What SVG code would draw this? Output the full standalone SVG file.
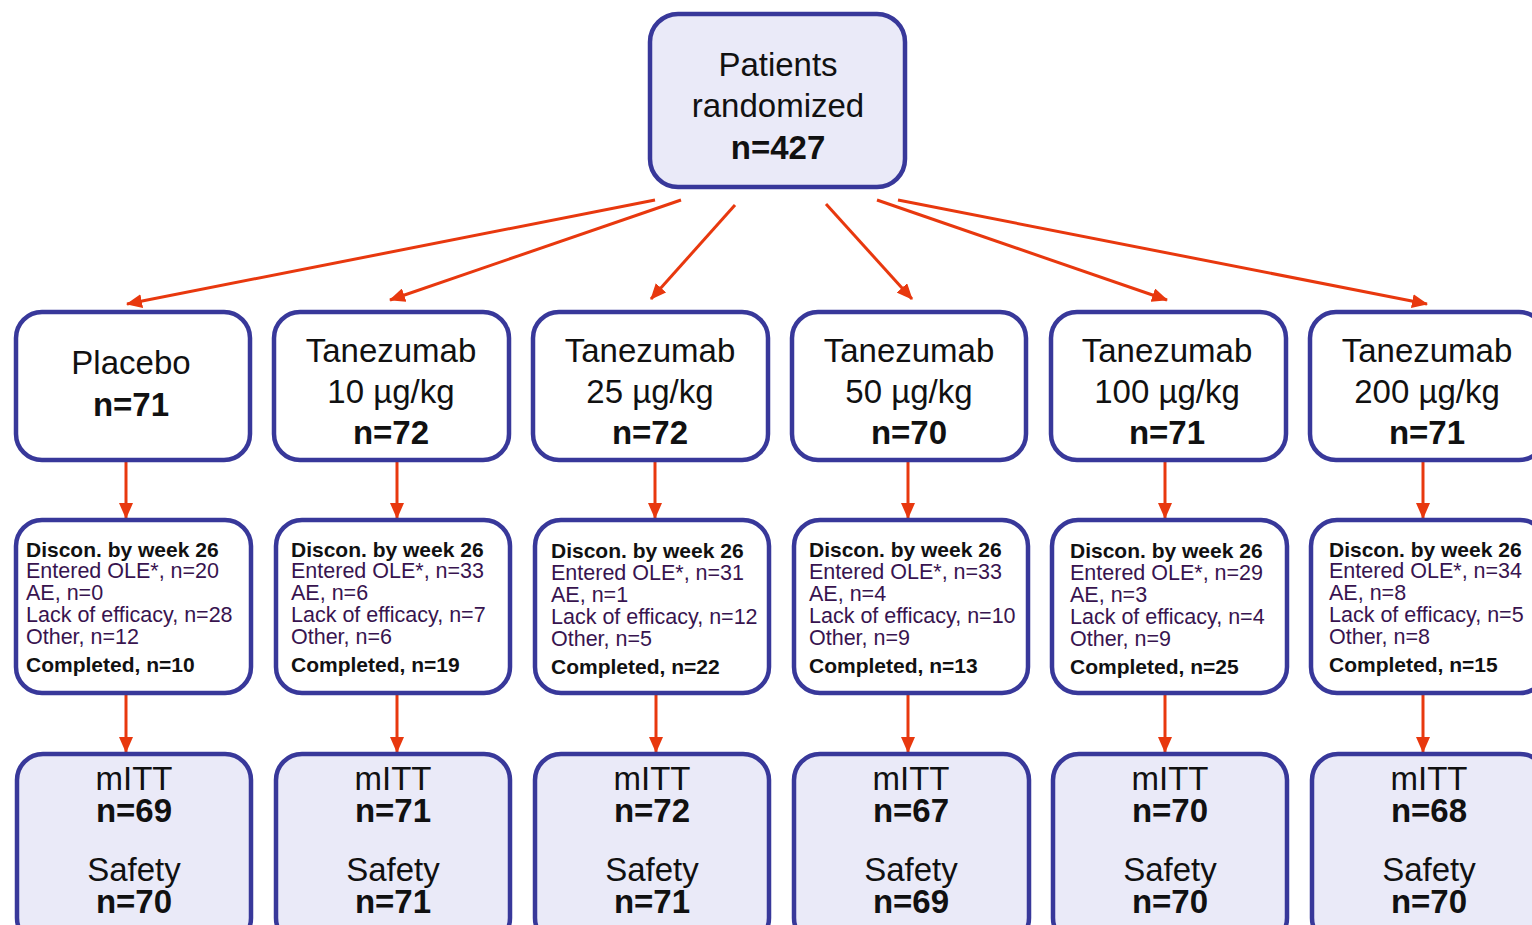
<svg xmlns="http://www.w3.org/2000/svg" width="1532" height="925" viewBox="0 0 1532 925">
<defs>
<marker id="ah" markerUnits="userSpaceOnUse" markerWidth="16" markerHeight="14" viewBox="0 0 16 14" refX="15" refY="7" orient="auto">
<path d="M0,0 L16,7 L0,14 z" fill="#E8380E"/>
</marker>
<style>
.box{stroke:#38389A;stroke-width:4.5;}
.lav{fill:#EAEAF8;}
.wht{fill:#FFFFFF;}
.big{font-family:"Liberation Sans",Arial,sans-serif;font-size:33px;fill:#111;text-anchor:middle;}
.b{font-weight:bold;}
.sm{font-family:"Liberation Sans",Arial,sans-serif;font-size:21.5px;fill:#38144F;}
.smb{font-family:"Liberation Sans",Arial,sans-serif;font-size:21px;font-weight:bold;fill:#111;}
.conn line{stroke:#E8380E;stroke-width:3;marker-end:url(#ah);}
</style>
</defs>
<rect width="1532" height="925" fill="#FFFFFF"/>

<g id="connectors" class="conn">
<line x1="655" y1="200" x2="127" y2="304"/>
<line x1="681" y1="200" x2="390" y2="300"/>
<line x1="735" y1="205" x2="651" y2="299"/>
<line x1="826" y1="204" x2="912" y2="299"/>
<line x1="877" y1="200" x2="1167" y2="300"/>
<line x1="898" y1="200" x2="1427" y2="304"/>

<line x1="126" y1="462" x2="126" y2="518"/>
<line x1="397" y1="462" x2="397" y2="518"/>
<line x1="655" y1="462" x2="655" y2="518"/>
<line x1="908" y1="462" x2="908" y2="518"/>
<line x1="1165" y1="462" x2="1165" y2="518"/>
<line x1="1423" y1="462" x2="1423" y2="518"/>

<line x1="126" y1="695" x2="126" y2="752"/>
<line x1="397" y1="695" x2="397" y2="752"/>
<line x1="656" y1="695" x2="656" y2="752"/>
<line x1="908" y1="695" x2="908" y2="752"/>
<line x1="1165" y1="695" x2="1165" y2="752"/>
<line x1="1423" y1="695" x2="1423" y2="752"/>
</g>

<g id="randomized">
<rect class="box lav" x="650" y="14" width="255" height="173" rx="28"/>
<text class="big" x="778" y="76">Patients</text>
<text class="big" x="778" y="117">randomized</text>
<text class="big b" x="778" y="159">n=427</text>
</g>

<g id="arm-placebo">
<rect class="box wht" x="16" y="312" width="234" height="148" rx="26"/>
<text class="big" x="131" y="374">Placebo</text>
<text class="big b" x="131" y="416">n=71</text>
</g>
<g id="arm-10">
<rect class="box wht" x="274" y="312" width="235" height="148" rx="26"/>
<text class="big" x="391" y="362">Tanezumab</text>
<text class="big" x="391" y="403">10 µg/kg</text>
<text class="big b" x="391" y="444">n=72</text>
</g>
<g id="arm-25">
<rect class="box wht" x="533" y="312" width="235" height="148" rx="26"/>
<text class="big" x="650" y="362">Tanezumab</text>
<text class="big" x="650" y="403">25 µg/kg</text>
<text class="big b" x="650" y="444">n=72</text>
</g>
<g id="arm-50">
<rect class="box wht" x="792" y="312" width="234" height="148" rx="26"/>
<text class="big" x="909" y="362">Tanezumab</text>
<text class="big" x="909" y="403">50 µg/kg</text>
<text class="big b" x="909" y="444">n=70</text>
</g>
<g id="arm-100">
<rect class="box wht" x="1051" y="312" width="235" height="148" rx="26"/>
<text class="big" x="1167" y="362">Tanezumab</text>
<text class="big" x="1167" y="403">100 µg/kg</text>
<text class="big b" x="1167" y="444">n=71</text>
</g>
<g id="arm-200">
<rect class="box wht" x="1310" y="312" width="235" height="148" rx="26"/>
<text class="big" x="1427" y="362">Tanezumab</text>
<text class="big" x="1427" y="403">200 µg/kg</text>
<text class="big b" x="1427" y="444">n=71</text>
</g>

<g id="discon-placebo">
<rect class="box wht" x="16" y="520" width="235" height="173" rx="26"/>
<text class="smb" x="26" y="557">Discon. by week 26</text>
<text class="sm" x="26" y="578">Entered OLE*, n=20</text>
<text class="sm" x="26" y="600">AE, n=0</text>
<text class="sm" x="26" y="622">Lack of efficacy, n=28</text>
<text class="sm" x="26" y="644">Other, n=12</text>
<text class="smb" x="26" y="672">Completed, n=10</text>
</g>
<g id="discon-10">
<rect class="box wht" x="276" y="520" width="234" height="173" rx="26"/>
<text class="smb" x="291" y="557">Discon. by week 26</text>
<text class="sm" x="291" y="578">Entered OLE*, n=33</text>
<text class="sm" x="291" y="600">AE, n=6</text>
<text class="sm" x="291" y="622">Lack of efficacy, n=7</text>
<text class="sm" x="291" y="644">Other, n=6</text>
<text class="smb" x="291" y="672">Completed, n=19</text>
</g>
<g id="discon-25">
<rect class="box wht" x="535" y="520" width="234" height="173" rx="26"/>
<text class="smb" x="551" y="558">Discon. by week 26</text>
<text class="sm" x="551" y="580">Entered OLE*, n=31</text>
<text class="sm" x="551" y="602">AE, n=1</text>
<text class="sm" x="551" y="624">Lack of efficacy, n=12</text>
<text class="sm" x="551" y="646">Other, n=5</text>
<text class="smb" x="551" y="674">Completed, n=22</text>
</g>
<g id="discon-50">
<rect class="box wht" x="794" y="520" width="234" height="173" rx="26"/>
<text class="smb" x="809" y="557">Discon. by week 26</text>
<text class="sm" x="809" y="579">Entered OLE*, n=33</text>
<text class="sm" x="809" y="601">AE, n=4</text>
<text class="sm" x="809" y="623">Lack of efficacy, n=10</text>
<text class="sm" x="809" y="645">Other, n=9</text>
<text class="smb" x="809" y="673">Completed, n=13</text>
</g>
<g id="discon-100">
<rect class="box wht" x="1052" y="520" width="235" height="173" rx="26"/>
<text class="smb" x="1070" y="558">Discon. by week 26</text>
<text class="sm" x="1070" y="580">Entered OLE*, n=29</text>
<text class="sm" x="1070" y="602">AE, n=3</text>
<text class="sm" x="1070" y="624">Lack of efficacy, n=4</text>
<text class="sm" x="1070" y="646">Other, n=9</text>
<text class="smb" x="1070" y="674">Completed, n=25</text>
</g>
<g id="discon-200">
<rect class="box wht" x="1311" y="520" width="235" height="173" rx="26"/>
<text class="smb" x="1329" y="557">Discon. by week 26</text>
<text class="sm" x="1329" y="578">Entered OLE*, n=34</text>
<text class="sm" x="1329" y="600">AE, n=8</text>
<text class="sm" x="1329" y="622">Lack of efficacy, n=5</text>
<text class="sm" x="1329" y="644">Other, n=8</text>
<text class="smb" x="1329" y="672">Completed, n=15</text>
</g>

<g id="pop-placebo">
<rect class="box lav" x="17" y="754" width="234" height="190" rx="26"/>
<text class="big" x="134" y="790">mITT</text>
<text class="big b" x="134" y="822">n=69</text>
<text class="big" x="134" y="881">Safety</text>
<text class="big b" x="134" y="913">n=70</text>
</g>
<g id="pop-10">
<rect class="box lav" x="276" y="754" width="234" height="190" rx="26"/>
<text class="big" x="393" y="790">mITT</text>
<text class="big b" x="393" y="822">n=71</text>
<text class="big" x="393" y="881">Safety</text>
<text class="big b" x="393" y="913">n=71</text>
</g>
<g id="pop-25">
<rect class="box lav" x="535" y="754" width="234" height="190" rx="26"/>
<text class="big" x="652" y="790">mITT</text>
<text class="big b" x="652" y="822">n=72</text>
<text class="big" x="652" y="881">Safety</text>
<text class="big b" x="652" y="913">n=71</text>
</g>
<g id="pop-50">
<rect class="box lav" x="794" y="754" width="235" height="190" rx="26"/>
<text class="big" x="911" y="790">mITT</text>
<text class="big b" x="911" y="822">n=67</text>
<text class="big" x="911" y="881">Safety</text>
<text class="big b" x="911" y="913">n=69</text>
</g>
<g id="pop-100">
<rect class="box lav" x="1053" y="754" width="234" height="190" rx="26"/>
<text class="big" x="1170" y="790">mITT</text>
<text class="big b" x="1170" y="822">n=70</text>
<text class="big" x="1170" y="881">Safety</text>
<text class="big b" x="1170" y="913">n=70</text>
</g>
<g id="pop-200">
<rect class="box lav" x="1312" y="754" width="234" height="190" rx="26"/>
<text class="big" x="1429" y="790">mITT</text>
<text class="big b" x="1429" y="822">n=68</text>
<text class="big" x="1429" y="881">Safety</text>
<text class="big b" x="1429" y="913">n=70</text>
</g>
</svg>
